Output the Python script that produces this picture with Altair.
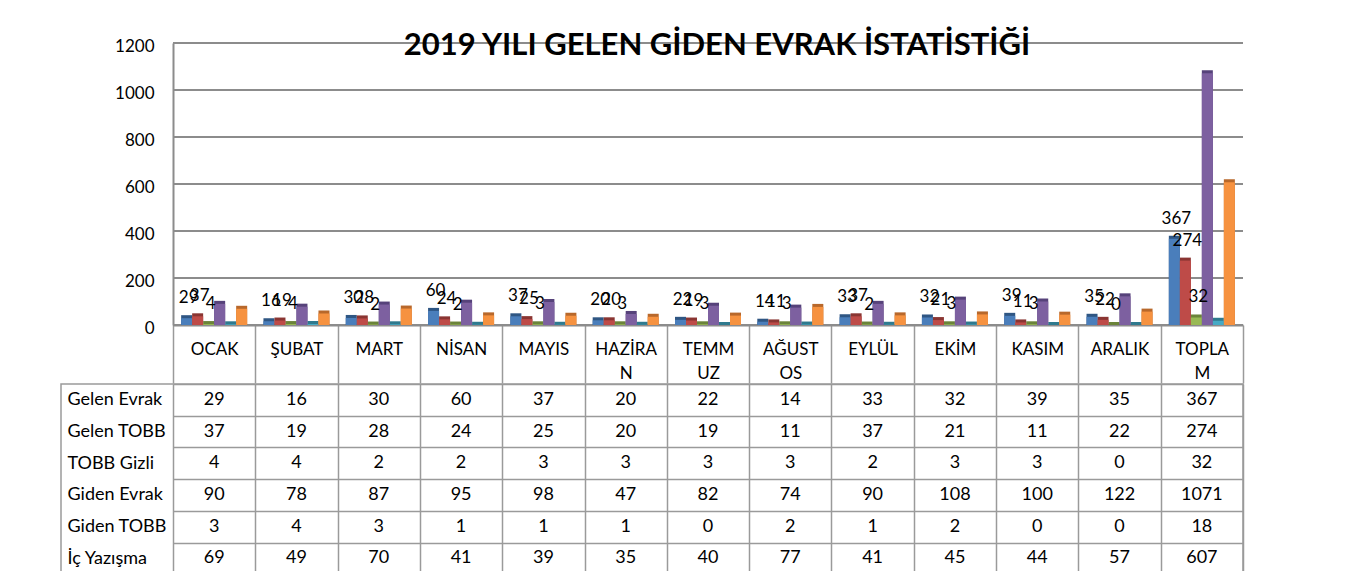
import altair as alt
import pandas as pd

# ---------------- data ----------------
months = ["OCAK", "ŞUBAT", "MART", "NİSAN", "MAYIS", "HAZİRAN", "TEMMUZ",
          "AĞUSTOS", "EYLÜL", "EKİM", "KASIM", "ARALIK", "TOPLAM"]
# header labels as they wrap in the original table ("|" = line break)
month_labels = ["OCAK", "ŞUBAT", "MART", "NİSAN", "MAYIS", "HAZİRA|N", "TEMM|UZ",
                "AĞUST|OS", "EYLÜL", "EKİM", "KASIM", "ARALIK", "TOPLA|M"]
series = ["Gelen Evrak", "Gelen TOBB", "TOBB Gizli", "Giden Evrak", "Giden TOBB", "İç Yazışma"]

gelen_evrak = [29, 16, 30, 60, 37, 20, 22, 14, 33, 32, 39, 35, 367]
gelen_tobb = [37, 19, 28, 24, 25, 20, 19, 11, 37, 21, 11, 22, 274]
tobb_gizli = [4, 4, 2, 2, 3, 3, 3, 3, 2, 3, 3, 0, 32]
giden_evrak = [90, 78, 87, 95, 98, 47, 82, 74, 90, 108, 100, 122, 1071]
giden_tobb = [3, 4, 3, 1, 1, 1, 0, 2, 1, 2, 0, 0, 18]
ic_yazisma = [69, 49, 70, 41, 39, 35, 40, 77, 41, 45, 44, 57, 607]

labelled_series = ["Gelen Evrak", "Gelen TOBB", "TOBB Gizli"]
y_ticks = [0, 200, 400, 600, 800, 1000, 1200]
title_text = "2019 YILI GELEN GİDEN EVRAK İSTATİSTİĞİ"

# ---------------- styling ----------------
FONT = "Lato"
front_colors = ["#4A7EBB", "#BE4B48", "#98B954", "#7D60A0", "#46AAC5", "#F69240"]
side_colors = ["#2F5683", "#8A3532", "#6B843A", "#56427A", "#2F7A8E", "#B8682B"]
GRID = "#8C8C8C"
TABLE_LINE = "#9A9A9A"

all_values = [gelen_evrak, gelen_tobb, tobb_gizli, giden_evrak, giden_tobb, ic_yazisma]
rows = []
for s, vals in zip(series, all_values):
    for m, lab, v in zip(months, month_labels, vals):
        rows.append({"month": m, "label": lab, "series": s, "value": v})
df = pd.DataFrame(rows)
grid_df = pd.DataFrame({"tick": y_ticks})

PLOT_W = 1070          # width of the 13 month columns
PLOT_H = 282
LABEL_COL = 112        # width of the row-label column of the data table
TABLE_W = LABEL_COL + PLOT_W
ROW_H = 31.7
HEADER_H = 58

x_scale = alt.Scale(domain=month_labels, range=[LABEL_COL, TABLE_W],
                    paddingInner=0, paddingOuter=0)
y_scale = alt.Scale(domain=[0, 1200])

x_bar = alt.X(
    "label:N", sort=month_labels, scale=x_scale,
    axis=alt.Axis(title=None, labelExpr="split(datum.label, '|')", labelAngle=0,
                  labelAlign="center", tickBand="extent", ticks=True, tickSize=HEADER_H,
                  tickColor=TABLE_LINE, tickWidth=1.5, domainColor=GRID, domainWidth=2,
                  labelFont=FONT, labelFontSize=17, labelColor="black", labelPadding=-42,
                  labelLineHeight=24, labelBaseline="top", grid=False),
)
xo = alt.XOffset("series:N", sort=series,
                 scale=alt.Scale(domain=series, paddingInner=0, paddingOuter=0.74))
y_axis = alt.Axis(title=None, values=y_ticks, format="d", grid=False, ticks=False,
                  domainColor=GRID, domainWidth=2, offset=-LABEL_COL, labelOffset=3,
                  labelFont=FONT, labelFontSize=17, labelColor="black", labelPadding=19)
y_bar = alt.Y("value:Q", scale=y_scale, axis=y_axis)

base = alt.Chart(df)

gridlines = alt.Chart(grid_df).mark_rule(color=GRID, strokeWidth=2).encode(
    y=alt.Y("tick:Q", scale=y_scale, axis=y_axis),
    x=alt.XDatum(month_labels[0], type="nominal", bandPosition=0),
    x2=alt.X2Datum(month_labels[-1], bandPosition=1),
)
side = base.mark_bar(xOffset=5, yOffset=-3).encode(
    x=x_bar, xOffset=xo, y=y_bar, y2=alt.datum(0),
    color=alt.Color("series:N", scale=alt.Scale(domain=series, range=side_colors), legend=None),
)
front = base.mark_bar(xOffset=2).encode(
    x=x_bar, xOffset=xo, y=y_bar,
    color=alt.Color("series:N", scale=alt.Scale(domain=series, range=front_colors), legend=None),
)
value_labels = base.transform_filter(
    alt.FieldOneOfPredicate(field="series", oneOf=labelled_series)
).mark_text(dy=-20, dx=2, font=FONT, fontSize=17, color="black").encode(
    x=x_bar, xOffset=xo, y=y_bar, text="value:Q"
)

bars = alt.layer(gridlines, side, front, value_labels).resolve_scale(
    color="independent"
).properties(
    width=TABLE_W, height=PLOT_H,
    title=alt.TitleParams(title_text, font=FONT, fontSize=31, fontWeight="bold",
                          anchor="middle", frame="group", offset=-12,
                          baseline="alphabetic", dx=65, dy=37, color="black"),
)

table = base.mark_text(font=FONT, fontSize=18, color="black").encode(
    x=alt.X("label:N", sort=month_labels, scale=x_scale,
            axis=alt.Axis(title=None, labels=False, ticks=False, domain=False, grid=True,
                          tickBand="extent", gridColor=TABLE_LINE, gridWidth=1.5)),
    y=alt.Y("series:N", sort=series,
            scale=alt.Scale(domain=series, paddingInner=0, paddingOuter=0),
            axis=alt.Axis(title=None, orient="left", grid=True, tickBand="extent",
                          gridColor=TABLE_LINE, gridWidth=1.5, ticks=False, domain=False,
                          labelAlign="left", labelPadding=0, offset=-6,
                          labelFont=FONT, labelFontSize=18, labelColor="black")),
    text="value:Q",
).properties(
    width=TABLE_W, height=ROW_H * 6,
    view=alt.ViewBackground(stroke=TABLE_LINE, strokeWidth=1.5),
)

chart = alt.vconcat(bars, table, spacing=-14).properties(
    padding={"left": 52, "top": 22, "right": 10, "bottom": 0},
    autosize=alt.AutoSizeParams(type="pad"),
    background="white",
).configure_view(stroke=None)

chart.save("out.html", embed_options={"renderer": "svg", "actions": False})
